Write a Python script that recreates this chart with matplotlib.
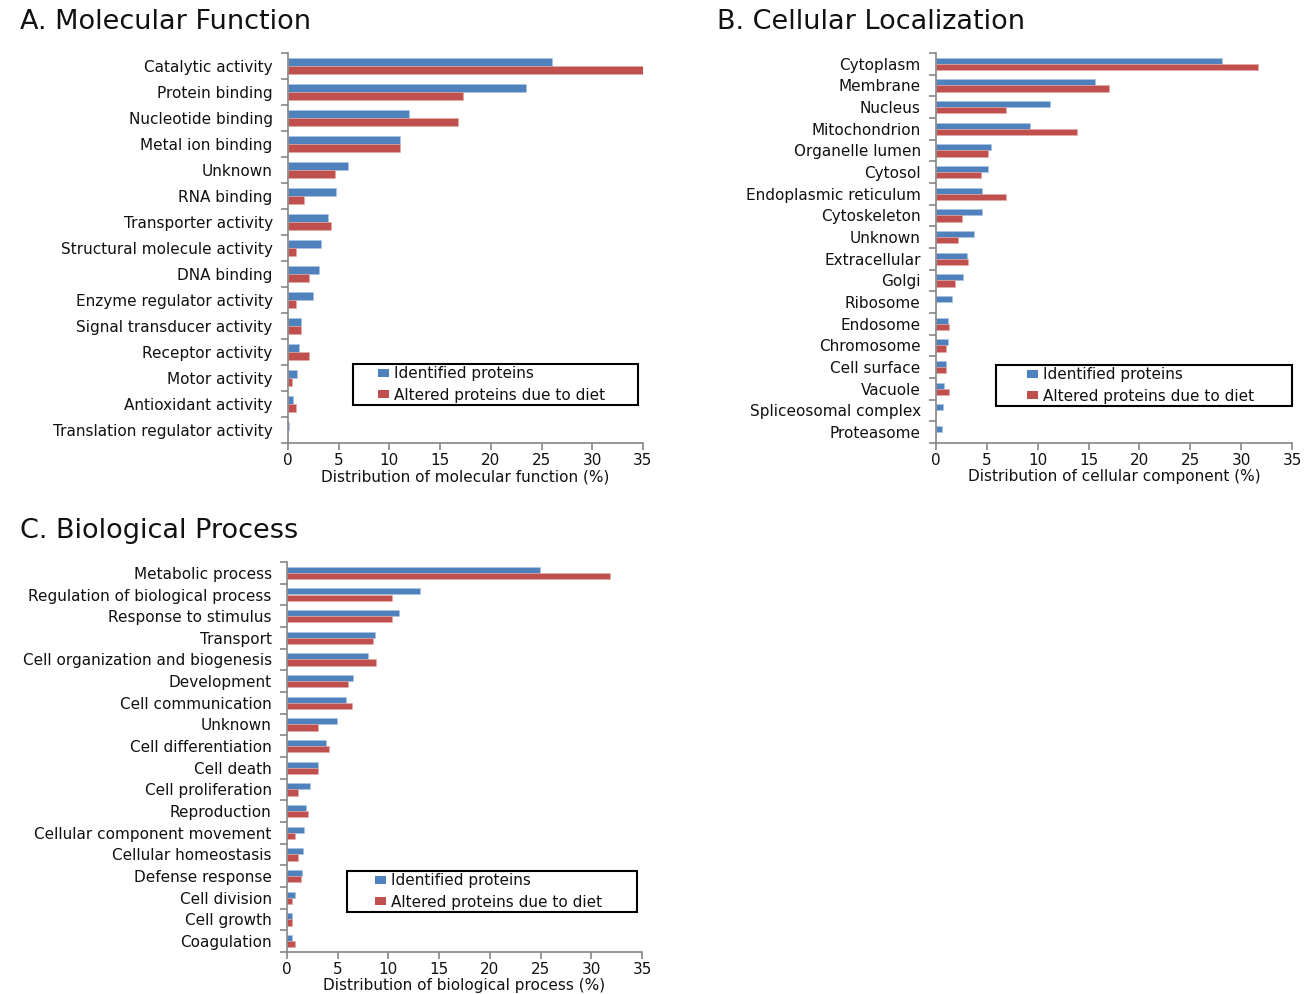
import matplotlib
matplotlib.use("Agg")
import matplotlib.pyplot as plt
import numpy as np
from matplotlib.patches import Patch, Rectangle

# ---- Data -------------------------------------------------------------
mf_categories = [
    "Catalytic activity", "Protein binding", "Nucleotide binding",
    "Metal ion binding", "Unknown", "RNA binding", "Transporter activity",
    "Structural molecule activity", "DNA binding", "Enzyme regulator activity",
    "Signal transducer activity", "Receptor activity", "Motor activity",
    "Antioxidant activity", "Translation regulator activity",
]
mf_identified = [26.0, 23.5, 11.9, 11.0, 5.9, 4.7, 3.9, 3.3, 3.1, 2.5, 1.3, 1.05, 0.9, 0.45, 0.1]
mf_altered = [35.0, 17.3, 16.8, 11.0, 4.6, 1.6, 4.2, 0.8, 2.1, 0.8, 1.3, 2.1, 0.4, 0.8, 0.0]

cc_categories = [
    "Cytoplasm", "Membrane", "Nucleus", "Mitochondrion", "Organelle lumen",
    "Cytosol", "Endoplasmic reticulum", "Cytoskeleton", "Unknown",
    "Extracellular", "Golgi", "Ribosome", "Endosome", "Chromosome",
    "Cell surface", "Vacuole", "Spliceosomal complex", "Proteasome",
]
cc_identified = [28.1, 15.6, 11.2, 9.2, 5.4, 5.1, 4.5, 4.5, 3.7, 3.0, 2.7, 1.55, 1.2, 1.2, 0.95, 0.8, 0.7, 0.6]
cc_altered = [31.7, 17.0, 6.9, 13.9, 5.1, 4.4, 6.9, 2.6, 2.2, 3.15, 1.9, 0.0, 1.3, 0.95, 0.95, 1.3, 0.0, 0.0]

bp_categories = [
    "Metabolic process", "Regulation of biological process",
    "Response to stimulus", "Transport", "Cell organization and biogenesis",
    "Development", "Cell communication", "Unknown", "Cell differentiation",
    "Cell death", "Cell proliferation", "Reproduction",
    "Cellular component movement", "Cellular homeostasis",
    "Defense response", "Cell division", "Cell growth", "Coagulation",
]
bp_identified = [24.9, 13.1, 11.05, 8.7, 8.0, 6.5, 5.8, 4.9, 3.85, 3.1, 2.25, 1.9, 1.7, 1.6, 1.45, 0.8, 0.5, 0.45]
bp_altered = [31.8, 10.4, 10.4, 8.45, 8.8, 6.0, 6.4, 3.1, 4.1, 3.1, 1.1, 2.1, 0.8, 1.1, 1.35, 0.45, 0.45, 0.8]

x_ticks = [0, 5, 10, 15, 20, 25, 30, 35]
series_names = ["Identified proteins", "Altered proteins due to diet"]

# ---- Style ------------------------------------------------------------
BLUE = "#4F81BD"
RED = "#C0504D"
AXIS_GREY = "#868686"
TEXT = "#111111"
FONT = "DejaVu Sans"
FS = 11

W, H = 1311, 994
fig = plt.figure(figsize=(W / 100, H / 100), dpi=100)
fig.patch.set_facecolor("white")


def px_axes(left, top, right, bottom):
    return fig.add_axes([left / W, 1 - bottom / H, (right - left) / W, (bottom - top) / H])


def panel(ax, cats, ident, alt, xlabel, legend_box, legend_x):
    n = len(cats)
    pos = np.arange(n)
    h = 0.29
    ax.barh(pos - h / 2, ident, height=h, color=BLUE, edgecolor="#A9C3E3", linewidth=0.4)
    ax.barh(pos + h / 2, alt, height=h, color=RED, edgecolor="#E3A9A8", linewidth=0.4)
    ax.set_ylim(n - 0.5, -0.5)
    ax.set_xlim(0, 35)
    ax.set_yticks(pos)
    ax.set_yticklabels(cats, fontsize=FS, family=FONT, color=TEXT)
    ax.set_yticks(np.arange(-0.5, n, 1.0), minor=True)
    ax.tick_params(axis="y", which="major", length=0, pad=11)
    ax.tick_params(axis="y", which="minor", length=5, width=1.2, color=AXIS_GREY, direction="out")
    ax.set_xticks(x_ticks)
    ax.set_xticklabels([str(t) for t in x_ticks], fontsize=FS, family=FONT, color=TEXT)
    ax.tick_params(axis="x", length=5, width=1.2, color=AXIS_GREY, direction="out", pad=2)
    for s in ("top", "right"):
        ax.spines[s].set_visible(False)
    for s in ("left", "bottom"):
        ax.spines[s].set_color(AXIS_GREY)
        ax.spines[s].set_linewidth(1.2)
    ax.set_xlabel(xlabel, fontsize=FS, family=FONT, color=TEXT, labelpad=1)

    # legend frame and entries
    l, t, r, b = legend_box
    fig.add_artist(Rectangle((l / W, 1 - b / H), (r - l) / W, (b - t) / H,
                             transform=fig.transFigure, facecolor="white",
                             edgecolor="black", linewidth=1.5, zorder=5))
    handles = [Patch(facecolor=BLUE, edgecolor="none"), Patch(facecolor=RED, edgecolor="none")]
    leg = fig.legend(handles, series_names, loc="center left",
                     bbox_to_anchor=(legend_x / W, 1 - (t + b) / 2 / H),
                     bbox_transform=fig.transFigure,
                     prop={"family": FONT, "size": FS},
                     frameon=False, borderaxespad=0, borderpad=0,
                     handlelength=0.72, handleheight=0.46, handletextpad=0.33,
                     labelspacing=0.4)
    leg.set_zorder(6)
    for txt in leg.get_texts():
        txt.set_color(TEXT)
    return ax


axA = px_axes(288, 53, 643, 443)
panel(axA, mf_categories, mf_identified, mf_altered,
      "Distribution of molecular function (%)", (353, 364, 638, 405), 378)

axB = px_axes(936, 53, 1292, 443)
panel(axB, cc_categories, cc_identified, cc_altered,
      "Distribution of cellular component (%)", (996, 365, 1292, 406), 1027)

axC = px_axes(287, 562, 642, 952)
panel(axC, bp_categories, bp_identified, bp_altered,
      "Distribution of biological process (%)", (347, 871, 637, 912), 375)

title_kw = dict(fontsize=19.5, family=FONT, color=TEXT, va="center", ha="left")
fig.text(20 / W, 1 - 22 / H, "A. Molecular Function", **title_kw)
fig.text(717 / W, 1 - 22 / H, "B. Cellular Localization", **title_kw)
fig.text(20 / W, 1 - 531 / H, "C. Biological Process", **title_kw)

fig.savefig("out.png", dpi=100, facecolor="white")
